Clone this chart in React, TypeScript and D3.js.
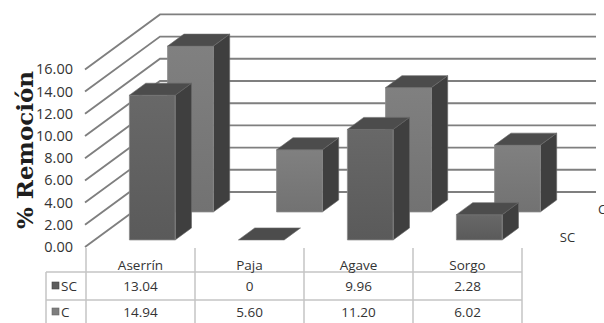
import React from 'react';
import * as d3 from 'd3';

const categories = ['Aserrín', 'Paja', 'Agave', 'Sorgo'];
const seriesNames = ['SC', 'C'];
const scValues = [13.04, 0, 9.96, 2.28];
const cValues = [14.94, 5.6, 11.2, 6.02];
const scLabels = ['13.04', '0', '9.96', '2.28'];
const cLabels = ['14.94', '5.60', '11.20', '6.02'];
const yTicks = [0, 2, 4, 6, 8, 10, 12, 14, 16];
const yTitle = '% Remoción';

const W = 604;
const H = 323;
const X0 = 85;
const X1 = 521;
const Y0 = 247;
const DX = 75;
const DY = 55;
const FONT = "'Open Sans', 'DejaVu Sans', sans-serif";

export default function App() {
  const xBand = d3.scaleBand<string>().domain(categories).range([X0, X1])
    .paddingInner(0.58).paddingOuter(0.29).align(0.55);
  const zBand = d3.scaleBand<string>().domain(seriesNames).range([0, 1])
    .paddingInner(0.572).paddingOuter(0.268).align(0.47);
  const yH = d3.scaleLinear().domain([0, 16]).range([0, 177.6]);
  const step = (X1 - X0) / categories.length;

  const proj = (x: number, d: number, v: number): [number, number] => [x + DX * d, Y0 - DY * d - yH(v)];
  const poly = (pts: [number, number][]) => pts.map(p => p.join(',')).join(' ');

  const valuesBySeries: Record<string, number[]> = { SC: scValues, C: cValues };
  const drawOrder = ['C', 'SC'];

  const bars: React.ReactNode[] = [];
  drawOrder.forEach(s => {
    const d0 = zBand(s)!;
    const d1 = d0 + zBand.bandwidth();
    valuesBySeries[s].forEach((v, i) => {
      const xl = xBand(categories[i])!;
      const xr = xl + xBand.bandwidth();
      const key = `${s}-${i}`;
      const front = [proj(xl, d0, 0), proj(xr, d0, 0), proj(xr, d0, v), proj(xl, d0, v)] as [number, number][];
      const top = [proj(xl, d0, v), proj(xr, d0, v), proj(xr, d1, v), proj(xl, d1, v)] as [number, number][];
      const side = [proj(xr, d0, 0), proj(xr, d1, 0), proj(xr, d1, v), proj(xr, d0, v)] as [number, number][];
      bars.push(
        <g key={key}>
          {v > 0 && <polygon points={poly(side)} fill="#3f3f3f" stroke="#6a6a6a" strokeWidth={0.6} />}
          {v > 0 && <polygon points={poly(front)} fill={`url(#grad-${s})`} stroke="#8a8a8a" strokeWidth={0.8} />}
          <polygon points={poly(top)} fill="#4c4c4c" stroke="#6a6a6a" strokeWidth={0.6} />
        </g>
      );
    });
  });

  const tableTop = 248;
  const rowLines = [272, 300];
  const tableBottom = 330;
  const colEdges = d3.range(categories.length + 1).map(i => X0 + 1 + step * i);

  const zMid = (s: string) => zBand(s)! + zBand.bandwidth() / 2;

  return (
    <svg width={W} height={H} style={{ position: 'fixed', left: 0, top: 0, background: '#fff' }}>
      <defs>
        <linearGradient id="grad-SC" x1="0" y1="0" x2="0" y2="1">
          <stop offset="0%" stopColor="#686868" />
          <stop offset="100%" stopColor="#5a5a5a" />
        </linearGradient>
        <linearGradient id="grad-C" x1="0" y1="0" x2="0" y2="1">
          <stop offset="0%" stopColor="#808080" />
          <stop offset="100%" stopColor="#727272" />
        </linearGradient>
      </defs>
      <rect x={0} y={0} width={W} height={H} fill="#fff" />

      {yTicks.map(t => {
        const a = proj(X0, 0, t);
        const b = proj(X0, 1, t);
        const c: [number, number] = [X1 + DX, b[1]];
        return (
          <polyline key={`g${t}`} points={poly([a, b, c])} fill="none" stroke="#7f7f7f" strokeWidth={1.9} />
        );
      })}

      {yTicks.map(t => (
        <text key={`yt${t}`} x={73} y={Y0 - yH(t) + 5} textAnchor="end" fontFamily={FONT} fontSize={14.5} fill="#333">
          {t.toFixed(2)}
        </text>
      ))}

      <text transform={`translate(33,150) rotate(-90)`} textAnchor="middle" fontFamily="'DejaVu Serif', serif" fontWeight="bold" fontSize={23} fill="#1e1e1e">
        {yTitle}
      </text>

      {bars}

      {seriesNames.map(s => {
        const p = proj(X1, zMid(s), 0);
        return (
          <text key={`sl${s}`} x={p[0] + 21} y={p[1] + 8} fontFamily={FONT} fontSize={13} fill="#333">
            {s}
          </text>
        );
      })}

      {colEdges.map((x, i) => (
        <line key={`cv${i}`} x1={x} x2={x} y1={tableTop} y2={tableBottom} stroke="#c4c4c4" strokeWidth={1.5} />
      ))}
      <line x1={46} x2={46} y1={rowLines[0]} y2={tableBottom} stroke="#c4c4c4" strokeWidth={1.5} />
      {rowLines.map((y, i) => (
        <line key={`rl${i}`} x1={46} x2={colEdges[colEdges.length - 1]} y1={y} y2={y} stroke="#c4c4c4" strokeWidth={1.5} />
      ))}
      {categories.map((c, i) => {
        const cx = (colEdges[i] + colEdges[i + 1]) / 2;
        return (
          <g key={`tc${i}`}>
            <text x={cx} y={270} textAnchor="middle" fontFamily={FONT} fontSize={13.5} fill="#333">{c}</text>
            <text x={cx} y={291} textAnchor="middle" fontFamily={FONT} fontSize={13.5} fill="#333">{scLabels[i]}</text>
            <text x={cx} y={317} textAnchor="middle" fontFamily={FONT} fontSize={13.5} fill="#333">{cLabels[i]}</text>
          </g>
        );
      })}
      <rect x={52} y={282} width={7} height={7} fill="#5c5c5c" stroke="#444" strokeWidth={0.6} />
      <text x={61} y={291} fontFamily={FONT} fontSize={13.5} fill="#333">SC</text>
      <rect x={52} y={308} width={7} height={7} fill="#7e7e7e" stroke="#666" strokeWidth={0.6} />
      <text x={61} y={317} fontFamily={FONT} fontSize={13.5} fill="#333">C</text>
    </svg>
  );
}
